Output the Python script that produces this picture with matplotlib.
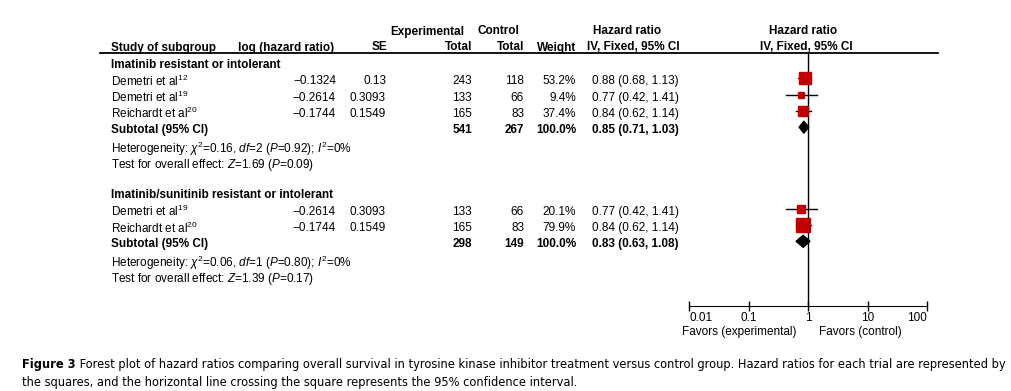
"""Forest plot of hazard ratios, tyrosine kinase inhibitor vs control."""
import matplotlib
matplotlib.use("Agg")
import matplotlib.pyplot as plt
from matplotlib.lines import Line2D
from matplotlib import font_manager
import numpy as np

# ---- data ----
group_titles = ["Imatinib resistant or intolerant",
                "Imatinib/sunitinib resistant or intolerant"]

g1_study = ["Demetri et al$^{12}$", "Demetri et al$^{19}$", "Reichardt et al$^{20}$"]
g1_loghr = ["\u22120.1324", "\u22120.2614", "\u22120.1744"]
g1_se = ["0.13", "0.3093", "0.1549"]
g1_exp = [243, 133, 165]
g1_ctrl = [118, 66, 83]
g1_weight = [53.2, 9.4, 37.4]
g1_hr = [0.88, 0.77, 0.84]
g1_lo = [0.68, 0.42, 0.62]
g1_hi = [1.13, 1.41, 1.14]
g1_sub = dict(exp=541, ctrl=267, hr=0.85, lo=0.71, hi=1.03)
g1_het = "Heterogeneity: $\\chi^2$=0.16, $df$=2 ($P$=0.92); $I^2$=0%"
g1_test = "Test for overall effect: $Z$=1.69 ($P$=0.09)"

g2_study = ["Demetri et al$^{19}$", "Reichardt et al$^{20}$"]
g2_loghr = ["\u22120.2614", "\u22120.1744"]
g2_se = ["0.3093", "0.1549"]
g2_exp = [133, 165]
g2_ctrl = [66, 83]
g2_weight = [20.1, 79.9]
g2_hr = [0.77, 0.84]
g2_lo = [0.42, 0.62]
g2_hi = [1.41, 1.14]
g2_sub = dict(exp=298, ctrl=149, hr=0.83, lo=0.63, hi=1.08)
g2_het = "Heterogeneity: $\\chi^2$=0.06, $df$=1 ($P$=0.80); $I^2$=0%"
g2_test = "Test for overall effect: $Z$=1.39 ($P$=0.17)"

xticks = [0.01, 0.1, 1, 10, 100]
xtick_labels = ["0.01", "0.1", "1", "10", "100"]

caption_bold = "Figure 3"
caption_1 = (" Forest plot of hazard ratios comparing overall survival in tyrosine kinase "
             "inhibitor treatment versus control group. Hazard ratios for each trial are "
             "represented by")
caption_2 = ("the squares, and the horizontal line crossing the square represents the 95% "
             "confidence interval.")

# ---- style ----
plt.rcParams["font.family"] = ["Liberation Sans", "DejaVu Sans"]
plt.rcParams["mathtext.fontset"] = "custom"
plt.rcParams["mathtext.rm"] = "Liberation Sans"
plt.rcParams["mathtext.it"] = "Liberation Sans:italic"
plt.rcParams["mathtext.bf"] = "Liberation Sans:bold"
FS = 8.5
RED = "#C00000"

W, H = 1011, 391
fig = plt.figure(figsize=(W / 100, H / 100), dpi=100)

ROW0, ROWH = 62, 16.3


def row_y(k):
    return ROW0 + ROWH * k


def put(x, y, s, ha="left", bold=False, size=FS, **kw):
    return fig.text(x / W, 1 - y / H, s, ha=ha, va="center_baseline",
                    fontsize=size, fontweight="bold" if bold else "normal", **kw)


# column headers
put(111, 46, "Study of subgroup", bold=True)
put(238, 46.5, "log (hazard ratio)", bold=True)
put(387, 46, "SE", ha="right", bold=True)
put(427, 30, "Experimental", ha="center", bold=True)
put(472, 46, "Total", ha="right", bold=True)
put(498, 30, "Control", ha="center", bold=True)
put(524, 46, "Total", ha="right", bold=True)
put(576, 46, "Weight", ha="right", bold=True)
put(627, 30, "Hazard ratio", ha="center", bold=True)
put(633, 46, "IV, Fixed, 95% CI", ha="center", bold=True)
put(803, 30, "Hazard ratio", ha="center", bold=True)
put(806, 46, "IV, Fixed, 95% CI", ha="center", bold=True)
fig.add_artist(Line2D([100 / W, 938 / W], [1 - 53 / H] * 2, color="black", lw=1.3))

# forest axes
top, bot = 53, 306
ax = fig.add_axes([689 / W, 1 - bot / H, (927 - 689) / W, (bot - top) / H])
ax.set_xscale("log")
ax.set_xlim(0.01, 100)
ax.set_ylim((bot - ROW0) / ROWH, (top - ROW0) / ROWH)
for s in ["top", "left", "right"]:
    ax.spines[s].set_visible(False)
ax.patch.set_alpha(0)
ax.set_yticks([])
ax.set_xticks(xticks)
ax.set_xticklabels(xtick_labels)
ax.xaxis.set_minor_locator(matplotlib.ticker.NullLocator())
ax.tick_params(axis="x", direction="inout", length=7, width=1, labelsize=FS, pad=0.5)
labels = ax.get_xticklabels()
labels[0].set_ha("left")
labels[-1].set_ha("right")
ax.axvline(1, color="black", lw=1)

groups = [
    (group_titles[0], g1_study, g1_loghr, g1_se, g1_exp, g1_ctrl, g1_weight,
     g1_hr, g1_lo, g1_hi, g1_sub, g1_het, g1_test),
    (group_titles[1], g2_study, g2_loghr, g2_se, g2_exp, g2_ctrl, g2_weight,
     g2_hr, g2_lo, g2_hi, g2_sub, g2_het, g2_test),
]

DY = 1.5  # text sits a touch lower than the marker rows
k = 0
for (title, study, loghr, se, n_exp, n_ctrl, weight, hr, lo, hi, sub, het,
     test) in groups:
    put(111, row_y(k) + DY, title, bold=True)
    k += 1
    for i in range(len(study)):
        y = row_y(k) + DY
        put(111, y, study[i])
        put(336, y, loghr[i], ha="right")
        put(386, y, se[i], ha="right")
        put(472, y, str(n_exp[i]), ha="right")
        put(524, y, str(n_ctrl[i]), ha="right")
        put(576, y, f"{weight[i]:.1f}%", ha="right")
        put(592, y, f"{hr[i]:.2f} ({lo[i]:.2f}, {hi[i]:.2f})")
        ax.plot([lo[i], hi[i]], [k, k], color="black", lw=1, zorder=2)
        side = 1.65 * np.sqrt(weight[i]) * 0.72
        ax.plot(hr[i], k, marker="s", ms=side, color=RED, mec=RED, zorder=3)
        k += 1
    y = row_y(k) + DY
    put(111, y, "Subtotal (95% CI)", bold=True)
    put(472, y, str(sub["exp"]), ha="right", bold=True)
    put(524, y, str(sub["ctrl"]), ha="right", bold=True)
    put(576, y, "100.0%", ha="right", bold=True)
    put(592, y, f"{sub['hr']:.2f} ({sub['lo']:.2f}, {sub['hi']:.2f})", bold=True)
    hh = 0.37
    ax.fill([sub["lo"], sub["hr"], sub["hi"], sub["hr"]],
            [k, k - hh, k, k + hh], color="black", zorder=3)
    k += 1
    put(111, row_y(k) + DY + 1, het)
    k += 1
    put(111, row_y(k) + DY + 1, test)
    k += 2

put(739, 331, "Favors (experimental)", ha="center")
put(860, 331, "Favors (control)", ha="center")

# caption - prefer a condensed face if one is installed
cap_kw = {"family": "DejaVu Sans"}
for f in font_manager.fontManager.ttflist:
    if "Narrow" in f.name or "Condensed" in f.fname:
        cap_kw = {"family": f.name, "stretch": f.stretch}
        break
cap_fs = 9.0
t_b = put(22, 363, caption_bold, bold=True, size=cap_fs, **cap_kw)
renderer = fig.canvas.get_renderer()
wb = t_b.get_window_extent(renderer).width
t_1 = put(22 + wb, 363, caption_1, size=cap_fs, **cap_kw)
w1 = t_1.get_window_extent(renderer).width + wb
scale = 986 / w1
for t in (t_b, t_1):
    t.set_fontsize(cap_fs * scale)
wb = t_b.get_window_extent(renderer).width
t_1.set_x((22 + wb) / W)
put(22, 381, caption_2, size=cap_fs * scale, **cap_kw)

fig.savefig("out.png", dpi=100)
